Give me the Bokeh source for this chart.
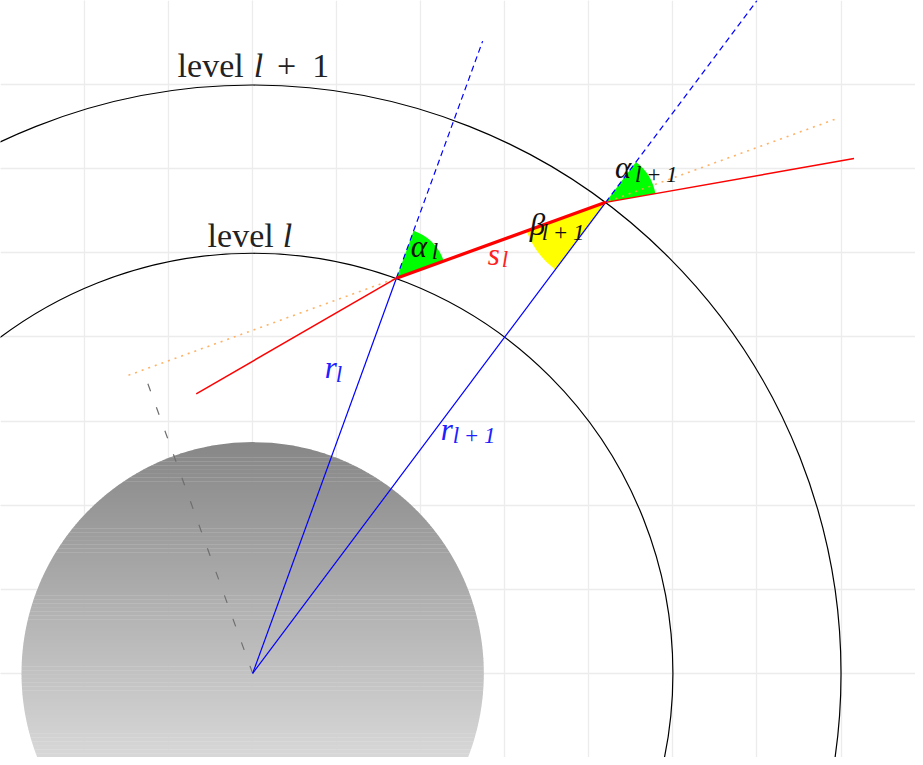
import numpy as np
from bokeh.plotting import figure
from bokeh.models import Range1d, Grid, FixedTicker
from bokeh.core.properties import value
from bokeh.embed import file_html
from bokeh.resources import INLINE

# ---- geometry data (units) ----
earth_radius = 2.75
level_radii = [5.0, 7.0]            # level l, level l+1
point_angles_deg = [70.0, 53.13]    # A on level l, B on level l+1
ray_in_angle_deg = 30.0             # incoming ray direction at A
ray_out_angle_deg = 10.0            # outgoing ray direction at B
ray_in_length = 2.75
ray_out_length = 3.0
radial_ext_radii = [8.0, 10.0]      # dashed radial extensions
dotted_back = 3.39                  # dotted line start (behind A along segment)
dotted_forward = 2.95               # dotted line end (beyond B)
alpha_wedge_r = 0.6
beta_wedge_r = 1.0
earth_gray_top = 134
earth_gray_bottom = 216
grid_x_ticks = list(range(-3, 8))
grid_y_ticks = list(range(-1, 9))

# ---- labels (baseline positions, units) ----
level_word_x = [-0.893, -0.536]
level_word_y = [7.107, 5.084]
level_word_text = ["level", "level"]
level_l_x = [0.012, 0.357]
level_l_y = [7.107, 5.084]
level_plus_x = [0.29, 0.71]
level_plus_y = [7.107, 7.107]
level_plus_text = ["+", "1"]

math_main_x = [1.881, 3.298, 4.310]
math_main_y = [4.953, 5.214, 5.893]
math_main_text = ["α", "β", "α"]
math_sub_x = [2.131, 3.440, 4.548]
math_sub_y = [4.893, 5.119, 5.810]
math_sub_text = ["l", "l\u2009+\u20091", "l\u2009+\u20091"]

s_main = (2.798, 4.857, "s")
s_sub = (2.964, 4.798, "l")
r_main_x = [0.857, 2.238]
r_main_y = [3.512, 2.774]
r_main_text = ["r", "r"]
r_sub_x = [0.988, 2.381]
r_sub_y = [3.429, 2.703]
r_sub_text = ["l", "l\u2009+\u20091"]

text_dy = 0.12   # rendering baseline correction

# ---- derived geometry ----
def unit(deg):
    return np.array([np.cos(np.radians(deg)), np.sin(np.radians(deg))])

A = level_radii[0] * unit(point_angles_deg[0])
B = level_radii[1] * unit(point_angles_deg[1])
seg = B - A
seg_len = np.hypot(*seg)
seg_dir = seg / seg_len
seg_angle = np.degrees(np.arctan2(seg[1], seg[0]))

P_in = A - ray_in_length * unit(ray_in_angle_deg)
P_out = B + ray_out_length * unit(ray_out_angle_deg)
A_ext = radial_ext_radii[0] * unit(point_angles_deg[0])
B_ext = radial_ext_radii[1] * unit(point_angles_deg[1])
normal = np.array([-seg_dir[1], seg_dir[0]])
foot = np.dot(A, normal) * normal
D0 = A - dotted_back * seg_dir
D1 = B + dotted_forward * seg_dir

p = figure(width=915, height=757, output_backend="svg", toolbar_location=None,
           x_range=Range1d(-3.0, 7.886), y_range=Range1d(-1.0, 8.0),
           x_axis_location=None, y_axis_location=None, min_border=0)
p.outline_line_color = None
p.background_fill_color = "white"

gx = Grid(dimension=0, ticker=FixedTicker(ticks=grid_x_ticks),
          grid_line_color="#ececec", grid_line_width=1.3)
gy = Grid(dimension=1, ticker=FixedTicker(ticks=grid_y_ticks),
          grid_line_color="#ececec", grid_line_width=1.3)
p.add_layout(gx)
p.add_layout(gy)

# earth with vertical gradient: circle-shaped strips (patches), one gray per strip
n = 80
edges = np.linspace(-1.0, earth_radius, n + 1)
xs_list, ys_list, cols = [], [], []
for i in range(n):
    y0, y1 = edges[i], min(edges[i + 1] + 0.004, earth_radius)
    yy = np.linspace(y0, y1, 6)
    xx = np.sqrt(np.clip(earth_radius**2 - yy**2, 0, None))
    xs_list.append(list(np.concatenate([xx, -xx[::-1]])))
    ys_list.append(list(np.concatenate([yy, yy[::-1]])))
    yc = 0.5 * (edges[i] + edges[i + 1])
    frac = (earth_radius - yc) / (earth_radius + 1.0)
    v = int(round(earth_gray_top + frac * (earth_gray_bottom - earth_gray_top)))
    cols.append("#%02x%02x%02x" % (v, v, v))
p.patches(xs=xs_list, ys=ys_list, fill_color=cols, line_color=None)

# levels
p.circle(x=[0, 0], y=[0, 0], radius=level_radii, fill_color=None,
         line_color="black", line_width=1.2)

# wedges
p.wedge(x=[A[0]], y=[A[1]], radius=alpha_wedge_r,
        start_angle=np.radians(seg_angle), end_angle=np.radians(point_angles_deg[0]),
        fill_color="#00ff00", line_color=None)
p.wedge(x=[B[0]], y=[B[1]], radius=alpha_wedge_r,
        start_angle=np.radians(ray_out_angle_deg), end_angle=np.radians(point_angles_deg[1]),
        fill_color="#00ff00", line_color=None)
p.wedge(x=[B[0]], y=[B[1]], radius=beta_wedge_r,
        start_angle=np.radians(180 + seg_angle), end_angle=np.radians(180 + point_angles_deg[1]),
        fill_color="#ffff00", line_color=None)

# impact parameter (gray dashed) and dotted extension
p.line([0, foot[0]], [0, foot[1]], line_color="#6e6e6e", line_width=1.2, line_dash="8 17")
p.line([D0[0], D1[0]], [D0[1], D1[1]], line_color="#ffa54a", line_width=1.6,
       line_dash="2 5", line_alpha=0.85)

# radii
p.line([0, A[0]], [0, A[1]], line_color="#0000ff", line_width=1.2)
p.line([0, B[0]], [0, B[1]], line_color="#0000ff", line_width=1.2)
p.line([A[0], A_ext[0]], [A[1], A_ext[1]], line_color="#0000ff", line_width=1.2, line_dash="6 4")
p.line([B[0], B_ext[0]], [B[1], B_ext[1]], line_color="#0000ff", line_width=1.2, line_dash="6 4")

# ray
p.line([P_in[0], A[0]], [P_in[1], A[1]], line_color="#ff0000", line_width=1.5)
p.line([A[0], B[0]], [A[1], B[1]], line_color="#ff0000", line_width=3.2)
p.line([B[0], P_out[0]], [B[1], P_out[1]], line_color="#ff0000", line_width=1.5)

serif = value("Liberation Serif")
common = dict(text_font=serif, text_baseline="alphabetic", text_align="left")

def up(ys):
    return [v + text_dy for v in ys]

p.text(x=level_word_x, y=up(level_word_y), text=level_word_text, text_color="#222222",
       text_font_size="34px", **common)
p.text(x=level_l_x, y=up(level_l_y), text=["l", "l"], text_color="#222222",
       text_font_size="34px", text_font_style="italic", **common)
p.text(x=level_plus_x, y=up(level_plus_y), text=level_plus_text, text_color="#222222",
       text_font_size="34px", **common)

p.text(x=math_main_x, y=up(math_main_y), text=math_main_text, text_color="#111111",
       text_font_size="31px", text_font_style="italic", **common)
p.text(x=math_sub_x, y=up(math_sub_y), text=math_sub_text, text_color="#111111",
       text_font_size="23px", text_font_style="italic", **common)

p.text(x=[s_main[0]], y=up([s_main[1]]), text=[s_main[2]], text_color="#ff2020",
       text_font_size="31px", text_font_style="italic", **common)
p.text(x=[s_sub[0]], y=up([s_sub[1]]), text=[s_sub[2]], text_color="#ff2020",
       text_font_size="23px", text_font_style="italic", **common)

p.text(x=r_main_x, y=up(r_main_y), text=r_main_text, text_color="#2020ff",
       text_font_size="31px", text_font_style="italic", **common)
p.text(x=r_sub_x, y=up(r_sub_y), text=r_sub_text, text_color="#2020ff",
       text_font_size="23px", text_font_style="italic", **common)

open("out.html", "w").write(file_html(p, INLINE))
